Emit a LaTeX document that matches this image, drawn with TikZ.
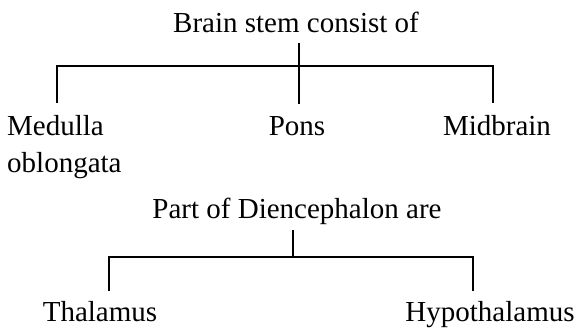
\documentclass[tikz,border=0pt]{standalone}
\usepackage{fontspec}
\setmainfont{Liberation Serif}
\usetikzlibrary{positioning}
\tikzset{
  part label/.style={
    anchor=base,
    inner sep=0pt,
    font=\fontsize{29}{37}\selectfont
  },
  tree line/.style={
    line width=1.4pt,
    color=black
  }
}

\begin{document}
\begin{tikzpicture}[x=1pt, y=-1pt]
    \useasboundingbox[fill=white] (0,0) rectangle (580,330);

    % 1. Brain stem and its three parts
    \node[part label] (brainstem) at (296,32) {Brain stem consist of};
    % base of a two-line node is its last line
    \node[part label, anchor=base west, align=left] (medulla) at (7,172) {Medulla\\oblongata};
    \node[part label] (pons) at (297,135) {Pons};
    \node[part label] (midbrain) at (497,135) {Midbrain};

    % joints of the upper tree (bar at y = 66)
    \coordinate (stemtop) at (299,43);
    \coordinate (ponstop) at (299,104);
    \coordinate (medullabar) at (57,66);
    \coordinate (medullatop) at (57,103);
    \coordinate (midbrainbar) at (493,66);
    \coordinate (midbraintop) at (493,103);

    \draw[tree line] (stemtop) -- (ponstop);
    \draw[tree line] (medullatop) -- (medullabar) -- (midbrainbar) -- (midbraintop);

    % 2. Diencephalon and its two parts
    \node[part label] (diencephalon) at (297,218) {Part of Diencephalon are};
    \node[part label] (thalamus) at (100,321) {Thalamus};
    \node[part label] (hypothalamus) at (490,321) {Hypothalamus};

    % joints of the lower tree (bar at y = 257)
    \coordinate (dientop) at (293,230);
    \coordinate (dienbar) at (293,257);
    \coordinate (thalamusbar) at (109,257);
    \coordinate (thalamustop) at (109,291);
    \coordinate (hypobar) at (473,257);
    \coordinate (hypotop) at (473,291);

    \draw[tree line] (dientop) -- (dienbar);
    \draw[tree line] (thalamustop) -- (thalamusbar) -- (hypobar) -- (hypotop);

\end{tikzpicture}
\end{document}
